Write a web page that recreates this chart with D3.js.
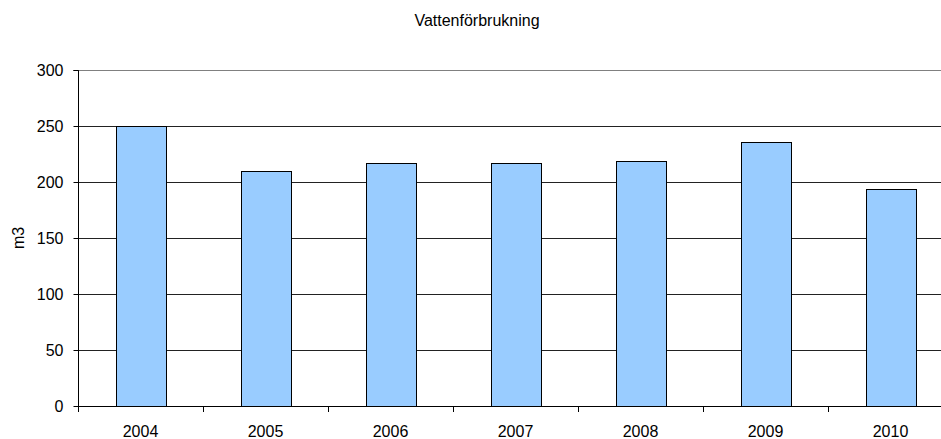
<!DOCTYPE html>
<html>
<head>
<meta charset="utf-8">
<script src="https://cdn.jsdelivr.net/npm/d3@7"></script>
<style>
  body { margin: 0; background: #fff; }
  text { font-family: "Liberation Sans", Arial, sans-serif; }
</style>
</head>
<body>
<div id="chart"></div>
<script>
const years = ["2004", "2005", "2006", "2007", "2008", "2009", "2010"];
const usage = [250, 210, 217, 217, 219, 236, 194];
const yTicks = [0, 50, 100, 150, 200, 250, 300];

const W = 941, H = 439;
const margin = { top: 70, left: 78, bottom: 33 };
const bandW = 125;
const plotH = H - margin.top - margin.bottom;
const fs = "16px";

const svg = d3.select("#chart").append("svg")
  .attr("width", W).attr("height", H);

// title
svg.append("text")
  .attr("x", 477).attr("y", 26)
  .attr("text-anchor", "middle")
  .style("font-size", fs)
  .text("Vattenförbrukning");

const x = d3.scaleBand()
  .domain(years)
  .range([margin.left, margin.left + bandW * years.length])
  .padding(0);

const y = d3.scaleLinear()
  .domain([0, 300])
  .range([margin.top + plotH, margin.top]);

// gridlines
svg.append("g")
  .selectAll("line")
  .data(yTicks.slice(1))
  .join("line")
  .attr("x1", margin.left).attr("x2", W)
  .attr("y1", d => Math.round(y(d)) + 0.5)
  .attr("y2", d => Math.round(y(d)) + 0.5)
  .attr("stroke", d => d === 300 ? "#808080" : "#222")
  .attr("stroke-width", 1);

// bars
const barW = x.bandwidth() * 0.4;
svg.append("g")
  .selectAll("rect")
  .data(years.map((yr, i) => ({ yr, v: usage[i] })))
  .join("rect")
  .attr("x", d => Math.round(x(d.yr) + (x.bandwidth() - barW) / 2) + 0.5)
  .attr("y", d => Math.round(y(d.v)) + 0.5)
  .attr("width", barW)
  .attr("height", d => Math.round(y(0)) - Math.round(y(d.v)))
  .attr("fill", "#99ccff")
  .attr("stroke", "#000")
  .attr("stroke-width", 1);

// y axis
const yAxis = svg.append("g")
  .attr("transform", `translate(${margin.left + 0.5},0.5)`)
  .call(d3.axisLeft(y).tickValues(yTicks).tickSize(5).tickPadding(10))
  .call(g => g.select(".domain").attr("stroke", "#000").attr("d", `M-5,${Math.round(y(300))}H0V${Math.round(y(0))}`));
yAxis.selectAll(".tick").attr("transform", d => `translate(0,${Math.round(y(d))})`);
yAxis.selectAll("text").style("font-size", fs).attr("fill", "#000").attr("font-family", null);

// x axis
const xAxis = svg.append("g")
  .attr("transform", `translate(0,${Math.round(y(0)) + 0.5})`)
  .call(d3.axisBottom(x).tickSize(0).tickPadding(19));
xAxis.select(".domain").attr("stroke", "#000").attr("d", `M${margin.left},0H${W}`);
xAxis.selectAll("text").style("font-size", fs).attr("fill", "#000").attr("font-family", null);

// x ticks at category boundaries
svg.append("g")
  .selectAll("line")
  .data(years)
  .join("line")
  .attr("x1", d => Math.round(x(d)) + 0.5)
  .attr("x2", d => Math.round(x(d)) + 0.5)
  .attr("y1", Math.round(y(0)))
  .attr("y2", Math.round(y(0)) + 6)
  .attr("stroke", "#000");

// y label
svg.append("text")
  .attr("transform", `translate(24,${(y(0) + y(300)) / 2}) rotate(-90)`)
  .attr("text-anchor", "middle")
  .style("font-size", fs)
  .text("m3");
</script>
</body>
</html>
